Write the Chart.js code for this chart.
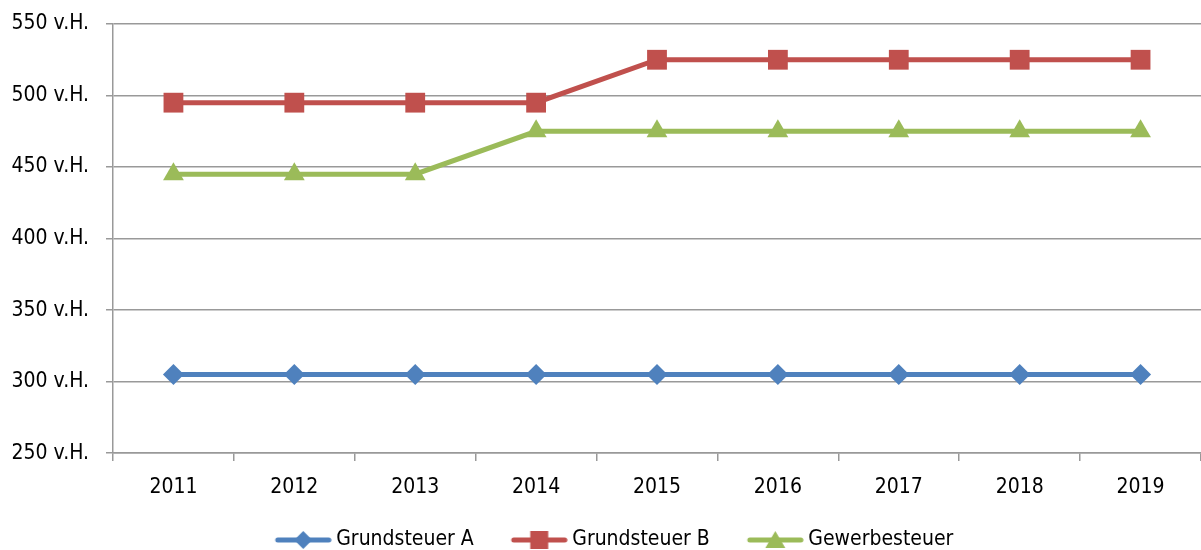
<!DOCTYPE html>
<html>
<head>
<meta charset="utf-8">
<script src="https://cdn.jsdelivr.net/npm/chart.js@4"></script>
<style>
  html, body { margin: 0; padding: 0; background: #fff; }
  #wrap { width: 1201px; height: 550px; }
</style>
</head>
<body>
<div id="wrap"><canvas id="chart"></canvas></div>
<script>
const years = ['2011', '2012', '2013', '2014', '2015', '2016', '2017', '2018', '2019'];
const grundsteuerA = [305, 305, 305, 305, 305, 305, 305, 305, 305];
const grundsteuerB = [495, 495, 495, 495, 525, 525, 525, 525, 525];
const gewerbesteuer = [445, 445, 445, 475, 475, 475, 475, 475, 475];
const yTicks = [250, 300, 350, 400, 450, 500, 550];

const FONT = "'Liberation Sans Narrow', 'Arial Narrow', 'DejaVu Sans Condensed', sans-serif";
const BLUE = '#4f81bd', RED = '#c0504d', GREEN = '#9bbb59';

// legend icon: short line with marker in the middle (shifted right so text sits close)
function legendIcon(color, shape) {
  const c = document.createElement('canvas');
  c.width = 68; c.height = 22;
  const g = c.getContext('2d');
  const cx = 39.5;
  g.strokeStyle = color; g.fillStyle = color;
  g.lineWidth = 5; g.lineCap = 'round';
  g.beginPath(); g.moveTo(14, 11); g.lineTo(65, 11); g.stroke();
  g.beginPath();
  if (shape === 'diamond') {
    g.moveTo(cx, 2); g.lineTo(cx + 9, 11); g.lineTo(cx, 20); g.lineTo(cx - 9, 11);
  } else if (shape === 'square') {
    g.rect(cx - 9, 2, 18, 18);
  } else {
    g.moveTo(cx, 2); g.lineTo(cx + 10, 19); g.lineTo(cx - 10, 19);
  }
  g.closePath(); g.fill();
  return c;
}

const ctx = document.getElementById('chart').getContext('2d');
new Chart(ctx, {
  type: 'line',
  data: {
    labels: years,
    datasets: [
      {
        label: 'Grundsteuer A', data: grundsteuerA,
        borderColor: BLUE, backgroundColor: BLUE, borderWidth: 5,
        pointStyle: 'rectRot', pointRadius: 10.5, pointBorderWidth: 0,
        legendIcon: legendIcon(BLUE, 'diamond')
      },
      {
        label: 'Grundsteuer B', data: grundsteuerB,
        borderColor: RED, backgroundColor: RED, borderWidth: 5,
        pointStyle: 'rect', pointRadius: 14, pointBorderWidth: 0,
        legendIcon: legendIcon(RED, 'square')
      },
      {
        label: 'Gewerbesteuer', data: gewerbesteuer,
        borderColor: GREEN, backgroundColor: GREEN, borderWidth: 5,
        pointStyle: 'triangle', pointRadius: 12, pointBorderWidth: 0,
        legendIcon: legendIcon(GREEN, 'triangle')
      }
    ]
  },
  options: {
    responsive: true,
    maintainAspectRatio: false,
    animation: false,
    layout: { autoPadding: false, padding: { top: 24, right: -14, left: 8, bottom: -10.5 } },
    plugins: {
      tooltip: { enabled: false },
      legend: {
        position: 'bottom',
        labels: {
          font: { family: FONT, size: 21 },
          color: '#000',
          usePointStyle: true,
          pointStyleWidth: 56,
          padding: 32,
          generateLabels: function (chart) {
            return chart.data.datasets.map((ds, i) => ({
              text: ds.label,
              pointStyle: ds.legendIcon,
              fillStyle: ds.borderColor,
              strokeStyle: ds.borderColor,
              lineWidth: 0,
              hidden: false,
              datasetIndex: i
            }));
          }
        }
      }
    },
    scales: {
      x: {
        offset: true,
        afterFit: function (scale) { scale.height = 44.4; },
        grid: {
          offset: true,
          drawOnChartArea: false,
          drawTicks: true,
          tickLength: 8,
          color: '#999',
          lineWidth: 1.5
        },
        border: { color: '#999', width: 1.5 },
        ticks: { font: { family: FONT, size: 21 }, color: '#000', padding: 14 }
      },
      y: {
        min: 250,
        max: 550,
        afterFit: function (scale) {
          scale.width = 105;
          scale.paddingTop = 0;
          scale.paddingBottom = 0;
        },
        afterBuildTicks: function (scale) {
          scale.ticks = yTicks.map(v => ({ value: v }));
        },
        grid: { color: '#999', lineWidth: 1.5, tickLength: 7 },
        border: { color: '#999', width: 1.5 },
        ticks: {
          font: { family: FONT, size: 21 },
          color: '#000',
          padding: 17,
          callback: function (value) { return value + ' v.H.'; }
        }
      }
    }
  }
});
</script>
</body>
</html>
